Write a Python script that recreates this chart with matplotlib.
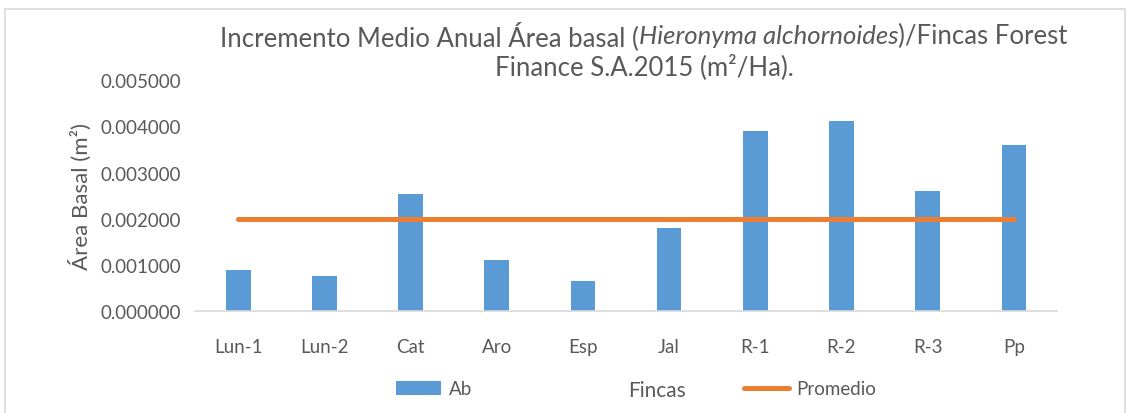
import matplotlib
matplotlib.use("Agg")
import matplotlib.pyplot as plt
from matplotlib.patches import Patch, Rectangle
from matplotlib.lines import Line2D

fincas = ["Lun-1", "Lun-2", "Cat", "Aro", "Esp", "Jal", "R-1", "R-2", "R-3", "Pp"]
ab = [0.000896, 0.000760, 0.002530, 0.001100, 0.000650, 0.001800,
      0.003910, 0.004120, 0.002600, 0.003600]
promedio = [0.002] * len(fincas)
yticks = [0.0, 0.001, 0.002, 0.003, 0.004, 0.005]

blue = "#5B9BD5"
orange = "#ED7D31"
txt = "#595959"

plt.rcParams['font.family'] = ['Lato', 'DejaVu Sans']

fig = plt.figure(figsize=(11.28, 4.14), dpi=100)
ax = fig.add_axes([0.173, 0.246, 0.764, 0.558])

x = list(range(len(fincas)))
ax.bar(x, ab, width=0.285, color=blue, zorder=2)
ax.plot(x, promedio, color=orange, lw=3.6, solid_capstyle='round', zorder=3)

ax.set_xlim(-0.5, len(fincas) - 0.5)
ax.set_ylim(0, 0.005)
ax.set_yticks(yticks)
ax.set_yticklabels([f"{v:.6f}" for v in yticks])
ax.set_xticks(x)
ax.set_xticklabels(fincas)
ax.tick_params(length=0, labelsize=13.5, colors=txt)
ax.tick_params(axis='y', pad=10)
ax.tick_params(axis='x', pad=19)

for s in ["top", "right", "left"]:
    ax.spines[s].set_visible(False)
ax.spines["bottom"].set_color("#D9D9D9")
ax.spines["bottom"].set_linewidth(1.2)

ax.set_ylabel("Área Basal (m²)", fontsize=16, color=txt, labelpad=6)
ax.set_xlabel("Fincas", fontsize=15, color=txt)
ax.xaxis.set_label_coords(0.536, -0.30)

# title line 1 built piecewise so the species name is italic
fig.canvas.draw()
renderer = fig.canvas.get_renderer()
line1 = [("Incremento Medio Anual Área basal (", "normal"),
         ("Hieronyma alchornoides", "italic"),
         (")/Fincas Forest", "normal")]
pieces = []
total = 0
for s, st in line1:
    t = fig.text(0, 0.912, s, fontsize=18.5, color=txt, style=st, ha='left', va='center')
    w = t.get_window_extent(renderer).width
    pieces.append((t, w))
    total += w
xpos = 644 - total / 2
for t, w in pieces:
    t.set_x(xpos / 1128)
    xpos += w
fig.text(644 / 1128, 0.838, "Finance S.A.2015 (m²/Ha).", fontsize=18.5, color=txt,
         ha='center', va='center')

handles = [Patch(facecolor=blue, edgecolor='none'),
           Line2D([0], [0], color=orange, lw=3.6, solid_capstyle='round')]
fig.legend(handles, ["Ab", "Promedio"], loc='center', bbox_to_anchor=(0.564, 0.058),
           ncol=2, frameon=False, fontsize=13.5, labelcolor=txt, columnspacing=14.5,
           handlelength=2.4, handleheight=0.75, handletextpad=0.4)

fig.patches.append(Rectangle((0.004, -0.01), 0.993, 0.985, transform=fig.transFigure,
                             fill=False, edgecolor="#D9D9D9", lw=1.2))

fig.savefig("out.png", dpi=100)
